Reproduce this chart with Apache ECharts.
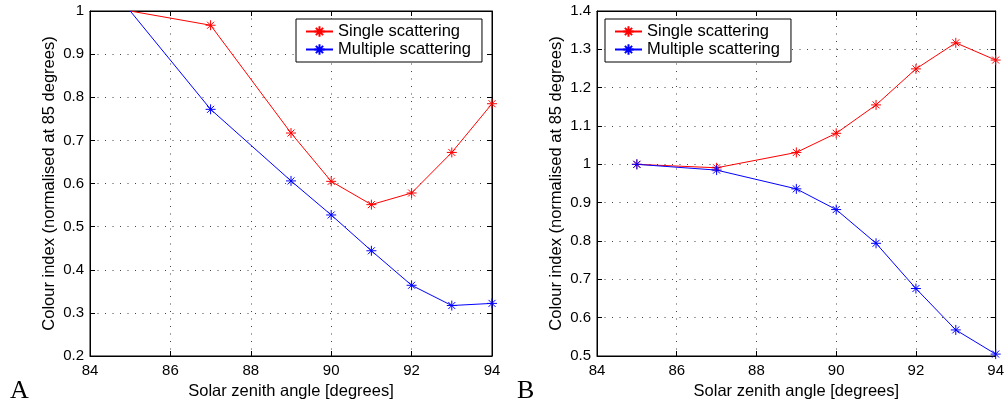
<!DOCTYPE html>
<html>
<head>
<meta charset="utf-8">
<script src="https://cdn.jsdelivr.net/npm/echarts@6/dist/echarts.min.js"></script>
<style>
html,body{margin:0;padding:0;background:#fff;}
#chart{width:1007px;height:408px;}
</style>
</head>
<body>
<div id="chart"></div>
<script>
// ---- data ----
var angles = [85, 87, 89, 90, 91, 92, 93, 94];
var singleA = [1.0, 0.967, 0.717, 0.605, 0.551, 0.578, 0.672, 0.785];
var multipleA = [1.0, 0.772, 0.606, 0.527, 0.444, 0.364, 0.317, 0.322];
var singleB = [1.0, 0.991, 1.031, 1.081, 1.155, 1.249, 1.317, 1.272];
var multipleB = [1.0, 0.985, 0.936, 0.882, 0.794, 0.676, 0.568, 0.505];
var xTicks = {min: 84, max: 94, interval: 2};
var yTicksA = {min: 0.2, max: 1.0, interval: 0.1};
var yTicksB = {min: 0.5, max: 1.4, interval: 0.1};
var seriesNames = ['Single scattering', 'Multiple scattering'];
var xName = 'Solar zenith angle [degrees]';
var yName = 'Colour index (normalised at 85 degrees)';
var panelLabels = ['A', 'B'];

// ---- chart ----
var FONT = '"Liberation Sans", Arial, Helvetica, sans-serif';
var STAR = 'path://M5,0L5,10M0,5L10,5M1.5,1.5L8.5,8.5M8.5,1.5L1.5,8.5';
var grids = [
  {left: 90, top: 11, width: 402, height: 345},
  {left: 597, top: 11, width: 401, height: 345}
];

function pairs(xs, ys, hideFirst) {
  return xs.map(function (x, i) {
    var d = {value: [x, ys[i]]};
    if (hideFirst && i === 0) d.symbol = 'none';
    return d;
  });
}

var GRIDLINE = {show: true, lineStyle: {color: '#444', type: [1, 6.5], width: 1}};
var xAxes = [], yAxes = [];
[0, 1].forEach(function (g) {
  var yt = g === 0 ? yTicksA : yTicksB;
  xAxes.push({
    type: 'value', gridIndex: g, position: 'bottom',
    min: xTicks.min, max: xTicks.max, interval: xTicks.interval,
    name: xName, nameLocation: 'middle', nameGap: 26,
    nameTextStyle: {color: '#000', fontFamily: FONT, fontSize: 16.5},
    axisLine: {show: true, onZero: false, lineStyle: {color: '#000', width: 1}},
    axisTick: {show: true, inside: true, length: 5, lineStyle: {color: '#000'}},
    axisLabel: {color: '#000', fontFamily: FONT, fontSize: 15, margin: 7},
    splitLine: GRIDLINE
  });
  xAxes.push({
    type: 'value', gridIndex: g, position: 'top',
    min: xTicks.min, max: xTicks.max, interval: xTicks.interval,
    axisLine: {show: true, onZero: false, lineStyle: {color: '#000', width: 1}},
    axisTick: {show: true, inside: true, length: 5, lineStyle: {color: '#000'}},
    axisLabel: {show: false}, splitLine: {show: false}
  });
  yAxes.push({
    type: 'value', gridIndex: g, position: 'left',
    min: yt.min, max: yt.max, interval: yt.interval,
    name: yName, nameLocation: 'middle', nameGap: 32, nameRotate: 90,
    nameTextStyle: {color: '#000', fontFamily: FONT, fontSize: 16.5},
    axisLine: {show: true, onZero: false, lineStyle: {color: '#000', width: 1}},
    axisTick: {show: true, inside: true, length: 5, lineStyle: {color: '#000'}},
    axisLabel: {color: '#000', fontFamily: FONT, fontSize: 15, margin: 6},
    splitLine: GRIDLINE
  });
  yAxes.push({
    type: 'value', gridIndex: g, position: 'right',
    min: yt.min, max: yt.max, interval: yt.interval,
    axisLine: {show: true, onZero: false, lineStyle: {color: '#000', width: 1}},
    axisTick: {show: true, inside: true, length: 5, lineStyle: {color: '#000'}},
    axisLabel: {show: false}, splitLine: {show: false}
  });
});

function mkSeries(name, color, data, g) {
  return {
    name: name, type: 'line', xAxisIndex: g * 2, yAxisIndex: g * 2,
    data: data, symbol: STAR, symbolSize: 10, showAllSymbol: true,
    lineStyle: {color: color, width: 1},
    itemStyle: {color: color, borderColor: color, borderWidth: 1},
    emphasis: {disabled: true}, animation: false, clip: true
  };
}

var series = [
  mkSeries(seriesNames[0], '#ff0000', pairs(angles, singleA, true), 0),
  mkSeries(seriesNames[1], '#0000ff', pairs(angles, multipleA, true), 0),
  mkSeries(seriesNames[0], '#ff0000', pairs(angles, singleB, false), 1),
  mkSeries(seriesNames[1], '#0000ff', pairs(angles, multipleB, false), 1)
];

function mkLegend(left) {
  return {
    data: seriesNames, orient: 'vertical', left: left, top: 19,
    backgroundColor: '#fff', borderColor: '#000', borderWidth: 1,
    padding: [4, 11, 4, 9], itemGap: 1, itemWidth: 27, itemHeight: 13,
    selectedMode: false,
    textStyle: {color: '#000', fontFamily: FONT, fontSize: 16.5, padding: [0, 0, 0, 0]}
  };
}

var chart = echarts.init(document.getElementById('chart'), null, {renderer: 'canvas'});
chart.setOption({
  animation: false,
  backgroundColor: '#fff',
  grid: grids.map(function (g) {
    return {left: g.left, top: g.top, width: g.width, height: g.height, show: true,
      borderColor: '#000', borderWidth: 1, backgroundColor: 'transparent'};
  }),
  xAxis: xAxes,
  yAxis: yAxes,
  legend: [mkLegend(296), mkLegend(605)],
  series: series,
  graphic: [
    {type: 'text', left: 10, top: 378, style: {text: panelLabels[0], fill: '#000',
      font: '26px "Liberation Serif", "Times New Roman", serif'}},
    {type: 'text', left: 517, top: 378, style: {text: panelLabels[1], fill: '#000',
      font: '26px "Liberation Serif", "Times New Roman", serif'}}
  ]
});
</script>
</body>
</html>
